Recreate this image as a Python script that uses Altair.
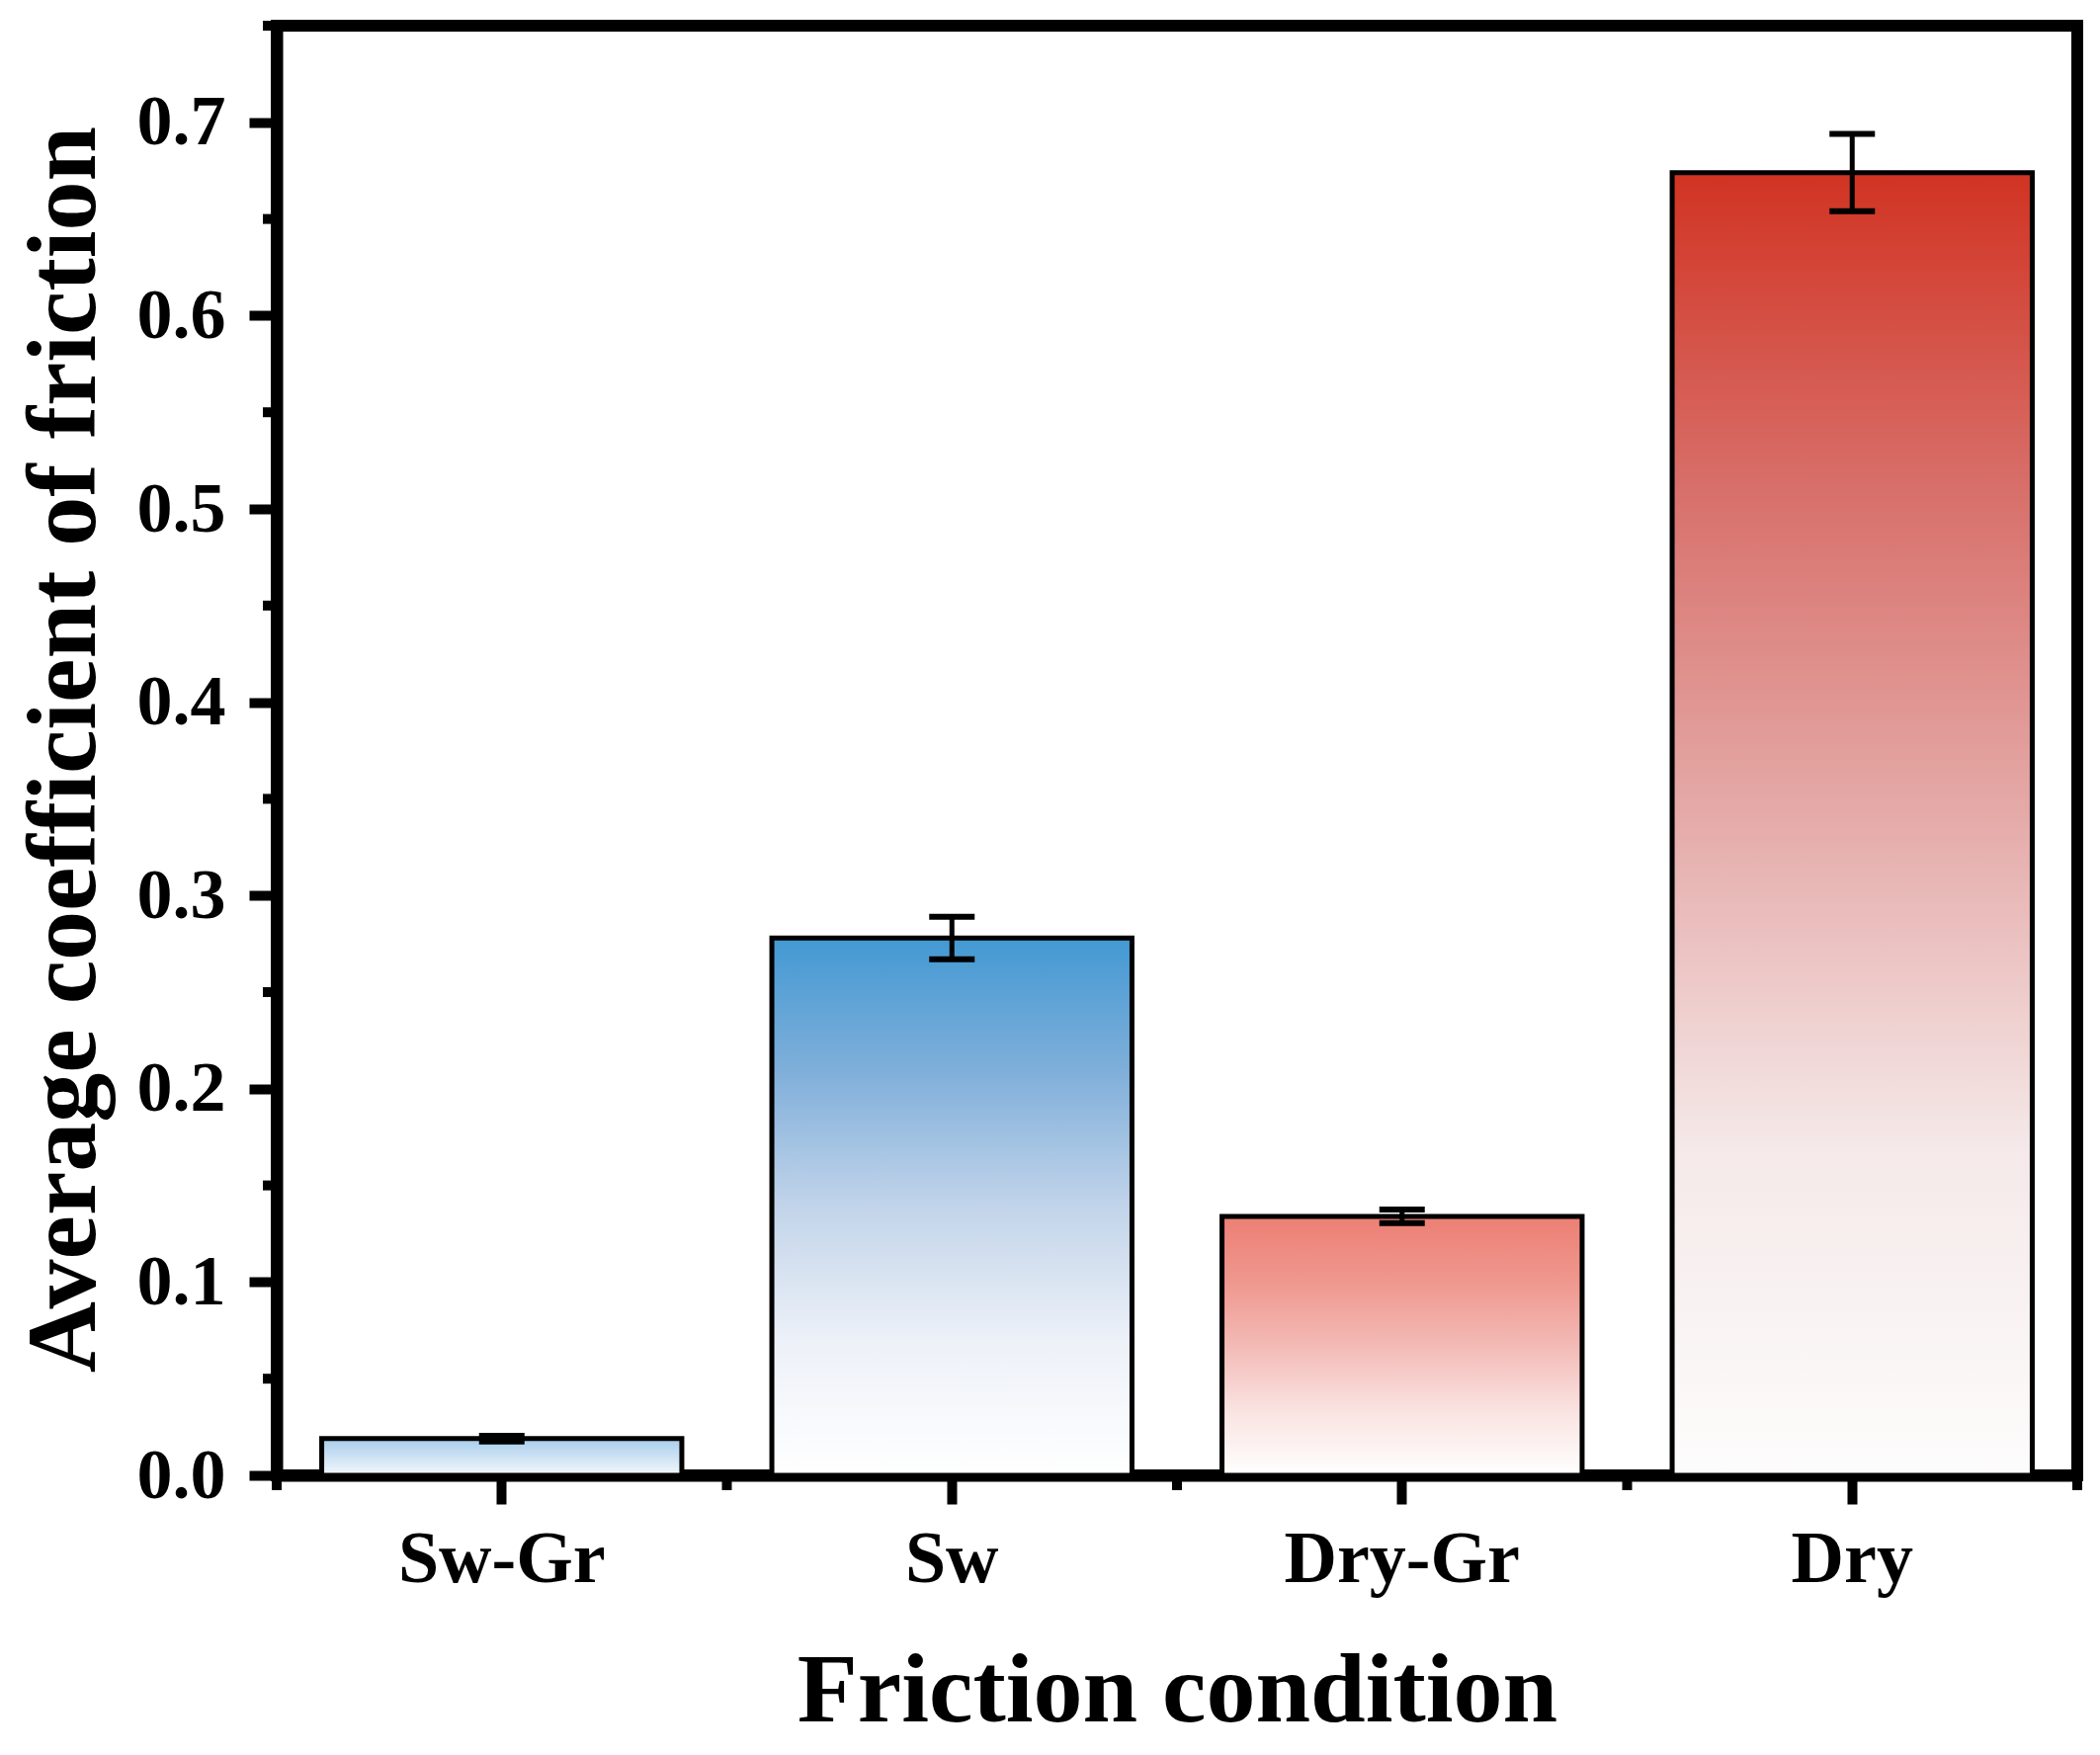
import altair as alt
import pandas as pd

# Data
conditions = ["Sw-Gr", "Sw", "Dry-Gr", "Dry"]
mean_cof = [0.019, 0.278, 0.134, 0.674]
err_cof = [0.0015, 0.011, 0.0035, 0.020]

y_major = [0.0, 0.1, 0.2, 0.3, 0.4, 0.5, 0.6, 0.7]
y_minor = [0.05, 0.15, 0.25, 0.35, 0.45, 0.55, 0.65, 0.75]
x_minor = [0, 1, 2, 3, 4]

# top -> bottom colours of each bar's vertical gradient (evenly spaced stops)
bar_colors = {
    "Sw-Gr": ["#a7cdec", "#f3f8fc"],
    "Sw": ["#4399d3", "#80afda", "#c2d4ea", "#edf1f8", "#ffffff"],
    "Dry-Gr": ["#ec7f74", "#ef978e", "#f3bab6", "#f9e3e1", "#ffffff"],
    "Dry": ["#d13322", "#d8716c", "#e5acaa", "#f5e9e9", "#fdfcfc"],
}

df = pd.DataFrame({"condition": conditions, "cof": mean_cof, "err": err_cof})
df["lo"] = df["cof"] - df["err"]
df["hi"] = df["cof"] + df["err"]

W, H = 1822, 1467
FONT = "Liberation Serif"


def gradient(colors):
    n = len(colors) - 1
    return alt.Gradient(
        gradient="linear",
        x1=0, y1=0, x2=0, y2=1,
        stops=[alt.GradientStop(offset=i / n, color=c) for i, c in enumerate(colors)],
    )


x_axis = alt.Axis(
    title="Friction condition", labelAngle=0, labelLimit=0,
    labelFont=FONT, labelFontSize=74, labelFontWeight="bold", labelColor="black",
    labelBaseline="alphabetic", labelPadding=78,
    tickSize=29, tickWidth=10, tickColor="black",
    domainWidth=12, domainColor="black", grid=False,
    titleFont=FONT, titleFontSize=100, titleFontWeight="bold", titleColor="black",
    titleX=W / 2, titleY=248, titleBaseline="alphabetic", titleAlign="center",
    titleLimit=0,
)
y_axis = alt.Axis(
    title="Average coefficient of friction", values=y_major, format=".1f",
    labelFont=FONT, labelFontSize=72, labelFontWeight="bold", labelColor="black",
    labelPadding=24, tickSize=28, tickWidth=10, tickColor="black",
    domainWidth=12, domainColor="black", grid=False,
    titleFont=FONT, titleFontSize=100, titleFontWeight="bold", titleColor="black",
    titleAngle=270, titleX=-185, titleY=732, titleBaseline="alphabetic", titleAlign="center",
    titleLimit=0,
)
x_scale = alt.Scale(domain=conditions, paddingInner=0.2, paddingOuter=0.1)
y_scale = alt.Scale(domain=[0, 0.75], nice=False, zero=True)

base = alt.Chart(df)

bars = [
    base.transform_filter(alt.datum.condition == c)
    .mark_bar(fill=gradient(bar_colors[c]), stroke="black", strokeWidth=5)
    .encode(
        x=alt.X("condition:N", scale=x_scale, axis=x_axis),
        y=alt.Y("cof:Q", scale=y_scale, axis=y_axis),
    )
    for c in conditions
]

stems = base.mark_rule(color="black", strokeWidth=5, opacity=1).encode(
    x=alt.X("condition:N", scale=x_scale, axis=x_axis),
    y=alt.Y("lo:Q", scale=y_scale, axis=y_axis),
    y2="hi:Q",
)
cap_lo = base.mark_tick(color="black", size=46, thickness=6, opacity=1, orient="horizontal").encode(
    x=alt.X("condition:N", scale=x_scale, axis=x_axis),
    y=alt.Y("lo:Q", scale=y_scale, axis=y_axis),
)
cap_hi = base.mark_tick(color="black", size=46, thickness=6, opacity=1, orient="horizontal").encode(
    x=alt.X("condition:N", scale=x_scale, axis=x_axis),
    y=alt.Y("hi:Q", scale=y_scale, axis=y_axis),
)

# minor ticks on the y axis
y_minor_ticks = alt.Chart(pd.DataFrame({"v": y_minor})).mark_rule(
    color="black", strokeWidth=10
).encode(
    y=alt.Y("v:Q", scale=y_scale, axis=y_axis),
    x=alt.value(-14),
    x2=alt.value(0),
)

inner = alt.layer(*bars, stems, cap_lo, cap_hi, y_minor_ticks)

# minor ticks between the categories on the x axis
x_minor_ticks = alt.Chart(pd.DataFrame({"p": x_minor})).mark_rule(
    color="black", strokeWidth=10
).encode(
    x=alt.X("p:Q", scale=alt.Scale(domain=[0, 4], nice=False, zero=False), axis=None),
    y=alt.value(H),
    y2=alt.value(H + 15),
)

chart = alt.layer(inner, x_minor_ticks).resolve_scale(
    x="independent"
).properties(
    width=W,
    height=H,
    background="white",
    autosize=alt.AutoSizeParams(type="none"),
    padding={"left": 272, "top": 18, "right": 15, "bottom": 270},
).configure_view(
    stroke="black", strokeWidth=12, strokeOpacity=1
)

chart.save("out.html", embed_options={"renderer": "svg", "actions": False})
print("Saved: out.html")
